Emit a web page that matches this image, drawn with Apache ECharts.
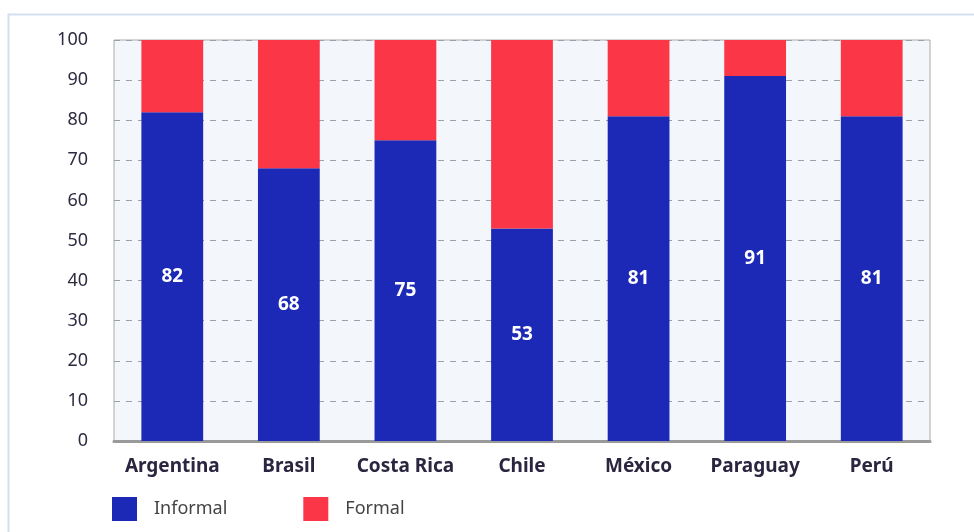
<!DOCTYPE html>
<html><head><meta charset="utf-8">
<script src="https://cdn.jsdelivr.net/npm/echarts@6/dist/echarts.min.js"></script>
<style>html,body{margin:0;padding:0;background:#fff}#c{width:974px;height:532px}</style>
</head><body><div id="c"></div>
<script>
const categories = ['Argentina','Brasil','Costa Rica','Chile','México','Paraguay','Perú'];
const informal = [82, 68, 75, 53, 81, 91, 81];
const formal = informal.map(v => 100 - v);
const seriesNames = ['Informal','Formal'];

const chart = echarts.init(document.getElementById('c'), null, {renderer:'canvas'});
const font = "'Noto Sans', 'Open Sans', sans-serif";
chart.setOption({
  animation:false,
  backgroundColor:'#ffffff',
  graphic:[{type:'rect', shape:{x:8.5,y:14.5,width:1000,height:600}, style:{fill:'none',stroke:'#d6def0',lineWidth:2}, z:-10}],
  grid:{left:114, right:44, top:40, bottom:91, show:true, backgroundColor:'#f3f7fb', borderColor:'#a9a9a9', borderWidth:1},
  legend:{left:112, top:497, padding:0, itemWidth:25, itemHeight:24, itemGap:76, icon:'rect',
    textStyle:{fontFamily:font, fontSize:18, color:'#444', padding:[0,0,0,12]},
    data:seriesNames},
  xAxis:{type:'category', data:categories,
    axisLine:{lineStyle:{color:'#9a9a9a', width:3}}, axisTick:{show:false},
    axisLabel:{interval:0, margin:16, fontFamily:font, fontSize:19, fontWeight:'bold', color:'#2b2540'}},
  yAxis:{type:'value', min:0, max:100, interval:10,
    axisLine:{show:false}, axisTick:{show:false},
    splitLine:{lineStyle:{color:'#9aa0a8', type:[6,6], width:1}},
    axisLabel:{margin:26, fontFamily:font, fontSize:18, color:'#2e2b40'}},
  series:[
    {name:seriesNames[0], type:'bar', stack:'t', data:informal, barWidth:'53%',
     itemStyle:{color:'#1c29b6'},
     label:{show:true, position:'inside', fontFamily:font, fontSize:19, fontWeight:'bold', color:'#ffffff'}},
    {name:seriesNames[1], type:'bar', stack:'t', data:formal, barWidth:'53%',
     itemStyle:{color:'#fa3647'}}
  ]
});
</script></body></html>
